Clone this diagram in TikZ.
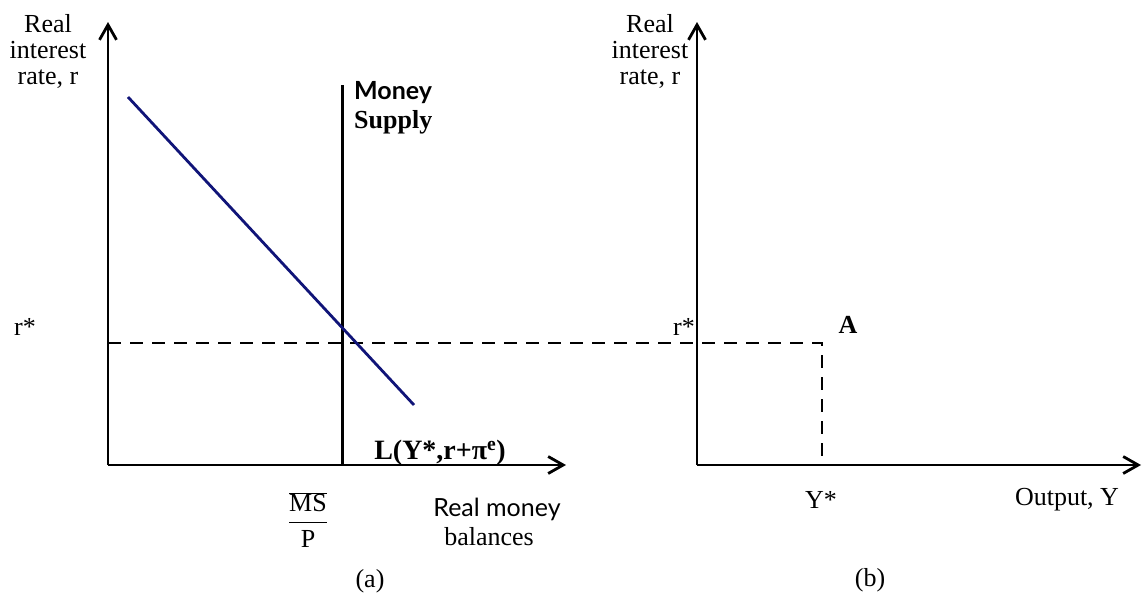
\documentclass[tikz,border=0pt]{standalone}
\usepackage{fontspec}
\setmainfont{Liberation Serif}
\newfontfamily\sansf{Lato}
\usetikzlibrary{arrows.meta}
\begin{document}
\begin{tikzpicture}[x=1pt,y=-1pt,
  axis/.style={line width=2.8pt,-{Straight Barb[length=15pt,width=17pt]}},
  guide/.style={line width=2pt,dash pattern=on 13pt off 9pt},
  lbl/.style={inner sep=0pt,font=\fontsize{26}{26}\selectfont},
  sanslbl/.style={inner sep=0pt,font=\sansf\fontsize{25}{28}\selectfont},
  demand/.style={line width=2.8pt,draw={rgb,255:red,16;green,20;blue,120}}]
\useasboundingbox (0,0) rectangle (1147,608);
% left panel
\coordinate (O1) at (108,465);
\coordinate (Y1) at (108,22);
\coordinate (X1) at (566,465);
\coordinate (MStop) at (342,85);
\coordinate (MSbot) at (342,465);
\coordinate (D1) at (128,97);
\coordinate (D2) at (414,405);
\coordinate (L1) at (108,343);
% right panel
\coordinate (O2) at (697,465);
\coordinate (Y2) at (697,22);
\coordinate (X2) at (1141,465);
\coordinate (Acorner) at (822,343);
\coordinate (Abot) at (822,465);

\draw[guide] (L1) -- (Acorner) -- (Abot);
\draw[line width=3pt] (MSbot) -- (MStop);
\draw[demand] (D1) -- (D2);
\draw[axis] (O1) -- (Y1);
\draw[axis] (O1) -- (X1);
\draw[axis] (O2) -- (Y2);
\draw[axis] (O2) -- (X2);

\node[lbl,align=center] (ylab1) at (48,51) {Real\\interest\\rate, r};
\node[lbl,align=center] (ylab2) at (650,51) {Real\\interest\\rate, r};
\node[sanslbl,anchor=west] (money) at (354,93) {\bfseries Money};
\node[lbl,anchor=west] (supply) at (354,122) {\bfseries Supply};
\node[lbl] (rstar1) at (25,327) {r*};
\node[lbl] (rstar2) at (684,327) {r*};
\node[lbl] (A) at (848,325) {\bfseries A};
\node[lbl] (Lab) at (440,453) {\fontsize{28}{30}\selectfont\bfseries L(Y*,r+π\textsuperscript{e})};
\node[lbl] (msp) at (308,520) {$\displaystyle\frac{\overline{\hbox{MS}}\rule[-7pt]{0pt}{7pt}}{\rule{0pt}{24pt}\hbox{P}}$};
\node[sanslbl] (rm) at (497,509) {Real money};
\node[lbl] (bal) at (489,537) {balances};
\node[lbl] (pa) at (370,581) {(a)};
\node[lbl] (Ys) at (821,500) {Y*};
\node[lbl] (out) at (1067,500) {Output, Y};
\node[lbl] (pb) at (870,580) {(b)};
\end{tikzpicture}
\end{document}
